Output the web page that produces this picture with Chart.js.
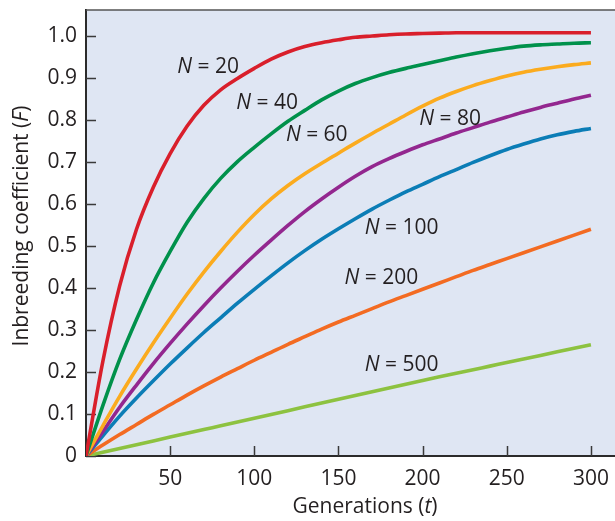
<!DOCTYPE html>
<html lang="en">
<head>
  <meta charset="UTF-8">
  <title>Inbreeding coefficient</title>
  <script src="https://cdn.jsdelivr.net/npm/chart.js"></script>
  <style>
    html, body {
      margin: 0;
      padding: 0;
      background: #ffffff;
    }

    .chart-container {
      width: 615px;
      height: 521px;
    }
  </style>
</head>
<body>

<div class="chart-container">
  <canvas id="fChart" width="615" height="521"></canvas>
</div>

<script>
// generations
const generations = [0, 10, 20, 30, 40, 50, 60, 70, 80, 90, 100, 110, 120, 130, 140, 150,
  160, 170, 180, 190, 200, 210, 220, 230, 240, 250, 260, 270, 280, 290, 300];

// F values, one list per population size
const fN20  = [0, 0.225, 0.405, 0.54, 0.64, 0.72, 0.785, 0.835, 0.872, 0.899, 0.923, 0.945, 0.962, 0.975, 0.984, 0.991,
  0.997, 1.0, 1.003, 1.005, 1.006, 1.007, 1.008, 1.008, 1.008, 1.008, 1.008, 1.008, 1.008, 1.008, 1.008];
const fN40  = [0, 0.12, 0.23, 0.325, 0.412, 0.487, 0.556, 0.613, 0.661, 0.701, 0.735, 0.767, 0.797, 0.823, 0.848, 0.869,
  0.887, 0.901, 0.913, 0.923, 0.932, 0.941, 0.95, 0.958, 0.965, 0.971, 0.976, 0.979, 0.981, 0.983, 0.984];
const fN60  = [0, 0.072, 0.142, 0.207, 0.269, 0.328, 0.385, 0.438, 0.487, 0.533, 0.575, 0.612, 0.644, 0.672, 0.697, 0.721,
  0.745, 0.768, 0.79, 0.812, 0.833, 0.852, 0.868, 0.882, 0.894, 0.905, 0.914, 0.921, 0.927, 0.932, 0.936];
const fN80  = [0, 0.058, 0.116, 0.169, 0.22, 0.268, 0.314, 0.358, 0.40, 0.44, 0.478, 0.514, 0.549, 0.582, 0.612, 0.64,
  0.666, 0.689, 0.708, 0.725, 0.741, 0.755, 0.769, 0.782, 0.795, 0.807, 0.819, 0.83, 0.84, 0.85, 0.859];
const fN100 = [0, 0.048, 0.095, 0.138, 0.179, 0.219, 0.257, 0.294, 0.329, 0.364, 0.397, 0.429, 0.46, 0.489, 0.516, 0.541,
  0.565, 0.588, 0.609, 0.629, 0.647, 0.665, 0.682, 0.699, 0.715, 0.73, 0.743, 0.755, 0.765, 0.773, 0.78];
const fN200 = [0, 0.026, 0.051, 0.075, 0.099, 0.122, 0.145, 0.167, 0.188, 0.208, 0.228, 0.247, 0.266, 0.284, 0.302, 0.319,
  0.335, 0.351, 0.367, 0.382, 0.397, 0.412, 0.427, 0.442, 0.456, 0.47, 0.484, 0.498, 0.512, 0.526, 0.54];
const fN500 = [0, 0.009, 0.018, 0.027, 0.036, 0.045, 0.054, 0.063, 0.072, 0.081, 0.09, 0.099, 0.108, 0.117, 0.126, 0.135,
  0.144, 0.153, 0.162, 0.171, 0.18, 0.1885, 0.197, 0.2055, 0.214, 0.2225, 0.231, 0.2395, 0.248, 0.2565, 0.265];

const popSizes = ['20', '40', '60', '80', '100', '200', '500'];
const seriesF = [fN20, fN40, fN60, fN80, fN100, fN200, fN500];
const colores = ['#d91f2b', '#00914b', '#fbab1e', '#93278f', '#0b7db6', '#f36b22', '#8dc240'];

// where the "N = ..." labels sit (centre, in data units)
const labelT = [72.6, 107.6, 137.1, 216.3, 187.5, 175.5, 187.5];
const labelF = [0.927, 0.841, 0.764, 0.802, 0.542, 0.423, 0.217];

const xTicks = [50, 100, 150, 200, 250, 300];
const yTicks = [0, 0.1, 0.2, 0.3, 0.4, 0.5, 0.6, 0.7, 0.8, 0.9, 1.0];

const FONT = '"Open Sans", "DejaVu Sans", sans-serif';
const INK = '#231f20';
const SIZE = 21;

function drawRich(ctx, parts, x, y, size) {
  let total = 0;
  parts.forEach(p => {
    ctx.font = (p.italic ? 'italic ' : '') + size + 'px ' + FONT;
    p.w = ctx.measureText(p.text).width;
    total += p.w;
  });
  let cx = x - total / 2;
  ctx.textAlign = 'left';
  ctx.textBaseline = 'middle';
  parts.forEach(p => {
    ctx.font = (p.italic ? 'italic ' : '') + size + 'px ' + FONT;
    ctx.fillText(p.text, cx, y);
    cx += p.w;
  });
}

const decoracion = {
  id: 'decoracion',
  beforeDraw(chart) {
    const { ctx, chartArea: a } = chart;
    ctx.save();
    ctx.fillStyle = '#dfe6f3';
    ctx.fillRect(a.left, a.top, a.right - a.left, a.bottom - a.top);
    ctx.restore();
  },
  beforeDatasetsDraw(chart) {
    const { ctx, chartArea: a, scales } = chart;
    ctx.save();
    ctx.strokeStyle = '#3a3a3a';
    ctx.lineWidth = 1.5;
    ctx.beginPath();
    xTicks.forEach(t => {
      const px = Math.round(scales.x.getPixelForValue(t)) + 0.5;
      ctx.moveTo(px, a.bottom);
      ctx.lineTo(px, a.bottom - 10);
    });
    yTicks.forEach(v => {
      const py = Math.round(scales.y.getPixelForValue(v)) + 0.5;
      ctx.moveTo(a.left, py);
      ctx.lineTo(a.left + 10, py);
    });
    ctx.stroke();
    // top frame line
    ctx.strokeStyle = '#555555';
    ctx.beginPath();
    ctx.moveTo(a.left, a.top);
    ctx.lineTo(a.right, a.top);
    ctx.stroke();
    ctx.restore();
  },
  afterDatasetsDraw(chart) {
    const { ctx, scales } = chart;
    ctx.save();
    ctx.fillStyle = INK;
    popSizes.forEach((n, i) => {
      const px = scales.x.getPixelForValue(labelT[i]);
      const py = scales.y.getPixelForValue(labelF[i]);
      drawRich(ctx, [{ text: 'N', italic: true }, { text: ' = ' + n }], px, py, SIZE);
    });
    drawRich(ctx, [{ text: 'Generations (' }, { text: 't', italic: true }, { text: ')' }], 365, 507, SIZE);
    ctx.translate(22, 226);
    ctx.rotate(-Math.PI / 2);
    drawRich(ctx, [{ text: 'Inbreeding coefficient (' }, { text: 'F', italic: true }, { text: ')' }], 0, 0, SIZE);
    ctx.restore();
  }
};

const datasets = popSizes.map((n, i) => ({
  label: 'N = ' + n,
  data: generations.map((t, j) => ({ x: t, y: seriesF[i][j] })),
  borderColor: colores[i],
  backgroundColor: colores[i],
  borderWidth: 3.6,
  pointRadius: 0,
  cubicInterpolationMode: 'monotone',
  fill: false
}));

const ctxF = document.getElementById('fChart').getContext('2d');

const chartF = new Chart(ctxF, {
  type: 'line',
  data: { datasets },
  options: {
    responsive: false,
    animation: false,
    layout: { padding: { top: 10, right: 0, bottom: 0, left: 0 } },
    plugins: {
      legend: { display: false },
      tooltip: { enabled: false }
    },
    scales: {
      x: {
        type: 'linear',
        min: 0,
        max: 314.3,
        afterBuildTicks: s => { s.ticks = xTicks.map(v => ({ value: v })); },
        afterFit: s => { s.height = 65; s.paddingLeft = 0; s.paddingRight = 0; },
        grid: { display: false, drawTicks: false },
        border: { display: true, color: '#2b2b2b', width: 2 },
        ticks: {
          color: INK,
          font: { family: FONT, size: SIZE },
          padding: 10,
          maxRotation: 0,
          callback: v => String(v)
        }
      },
      y: {
        min: 0,
        max: 1.062,
        afterBuildTicks: s => { s.ticks = yTicks.map(v => ({ value: v })); },
        afterFit: s => { s.width = 86; s.paddingTop = 0; s.paddingBottom = 0; },
        grid: { display: false, drawTicks: false },
        border: { display: true, color: '#2b2b2b', width: 2 },
        ticks: {
          color: INK,
          font: { family: FONT, size: SIZE },
          padding: 9,
          callback: v => v === 0 ? '0' : v.toFixed(1)
        }
      }
    }
  },
  plugins: [decoracion]
});
</script>

</body>
</html>
